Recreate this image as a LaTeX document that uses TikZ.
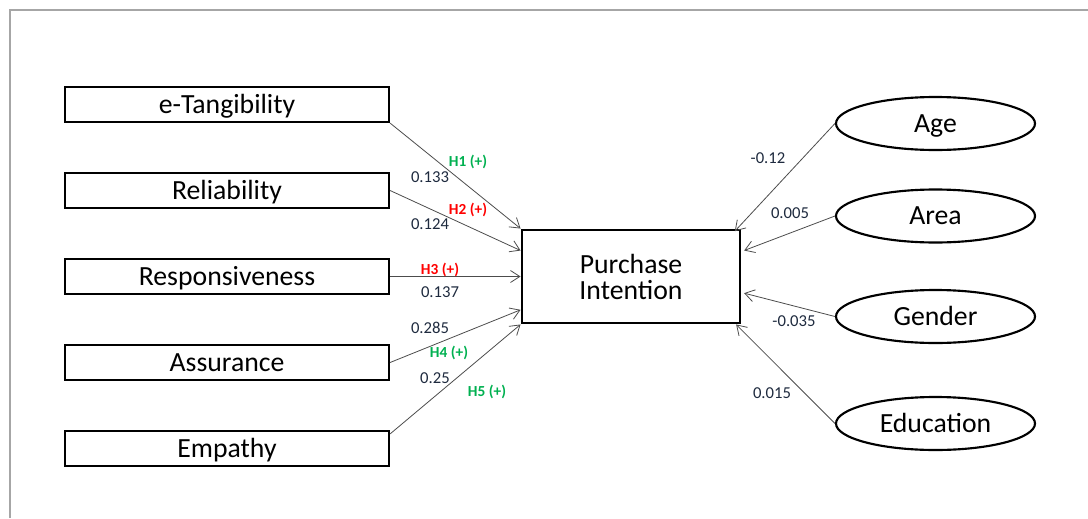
\documentclass[tikz,border=0pt]{standalone}
\usepackage{fontspec}
\setmainfont{Carlito}
\usetikzlibrary{arrows.meta,positioning,calc,shapes.geometric}
\definecolor{numcol}{RGB}{30,42,62}
\definecolor{hgreen}{RGB}{0,176,80}
\definecolor{hred}{RGB}{255,0,0}
\begin{document}
\begin{tikzpicture}[x=0.75pt,y=-0.75pt]
\tikzset{construct/.style={draw,line width=1.6pt,rectangle,minimum width=243pt,minimum height=26.25pt,
  inner sep=0pt,text height=13pt,text depth=0pt,font=\fontsize{20.8}{20}\selectfont}}
\tikzset{control/.style={draw,line width=1.6pt,ellipse,minimum width=149.25pt,minimum height=39.75pt,
  inner sep=0pt,text height=13pt,text depth=0pt,font=\fontsize{20.8}{20}\selectfont}}
\tikzset{path/.style={draw=black!70,line width=0.6pt,-{Straight Barb[length=7pt,width=9pt]}}}
\tikzset{coef/.style={text=numcol,font=\fontsize{12.5}{13}\selectfont,inner sep=0pt}}
\tikzset{hyp/.style={font=\bfseries\fontsize{11.5}{12}\selectfont,inner sep=0pt}}
\useasboundingbox (0,0) rectangle (1088,518);
\draw[black!35,line width=1.5pt] (10,518) -- (10,10) -- (1088,10);
% exogenous constructs
\node[construct] (tang) at (227,104.5) {e-Tangibility};
\node[construct] (rel) at (227,190.5) {Reliability};
\node[construct] (resp) at (227,276.5) {Responsiveness};
\node[construct] (assu) at (227,362.5) {Assurance};
\node[construct] (emp) at (227,448.5) {Empathy};
% outcome
\node[draw,line width=2.2pt,minimum width=163.5pt,minimum height=69.75pt,inner sep=0pt,align=center,
  font=\fontsize{20.8}{19.5}\selectfont] (pi) at (631,276.5) {Purchase\\Intention};
% controls
\node[control] (age) at (935.5,123.5) {Age};
\node[control] (area) at (935.5,216) {Area};
\node[control] (gen) at (935.5,316.5) {Gender};
\node[control] (edu) at (935.5,423.5) {Education};
% paths
\draw[path] (tang.south east) -- (pi.north west);
\draw[path] (rel.east) -- ([yshift=19.5pt]pi.west);
\draw[path] (resp.east) -- (pi.west);
\draw[path] (assu.east) -- ([yshift=-25pt]pi.west);
\draw[path] ([yshift=-3pt]emp.north east) -- (pi.south west);
\draw[path] (age.west) -- ([xshift=-5pt,yshift=-2pt]pi.north east);
\draw[path] (area.west) -- ([xshift=2pt,yshift=19.5pt]pi.east);
\draw[path] (gen.west) -- ([xshift=2pt,yshift=-12.5pt]pi.east);
\draw[path] (edu.west) -- ([xshift=-4pt]pi.south east);
% labels
\node[hyp,text=hgreen] (h1) at (468,162) {H1 (+)};
\node[coef] (c1) at (430,177) {0.133};
\node[hyp,text=hred] (h2) at (468,210) {H2 (+)};
\node[coef] (c2) at (430,224) {0.124};
\node[hyp,text=hred] (h3) at (440,270) {H3 (+)};
\node[coef] (c3) at (440,292) {0.137};
\node[coef] (c4) at (430,328) {0.285};
\node[hyp,text=hgreen] (h4) at (449,353) {H4 (+)};
\node[coef] (c5) at (435,378) {0.25};
\node[hyp,text=hgreen] (h5) at (487,392) {H5 (+)};
\node[coef] (cage) at (768,158) {-0.12};
\node[coef] (carea) at (790,213) {0.005};
\node[coef] (cgen) at (794,321) {-0.035};
\node[coef] (cedu) at (772,393) {0.015};
\end{tikzpicture}
\end{document}
